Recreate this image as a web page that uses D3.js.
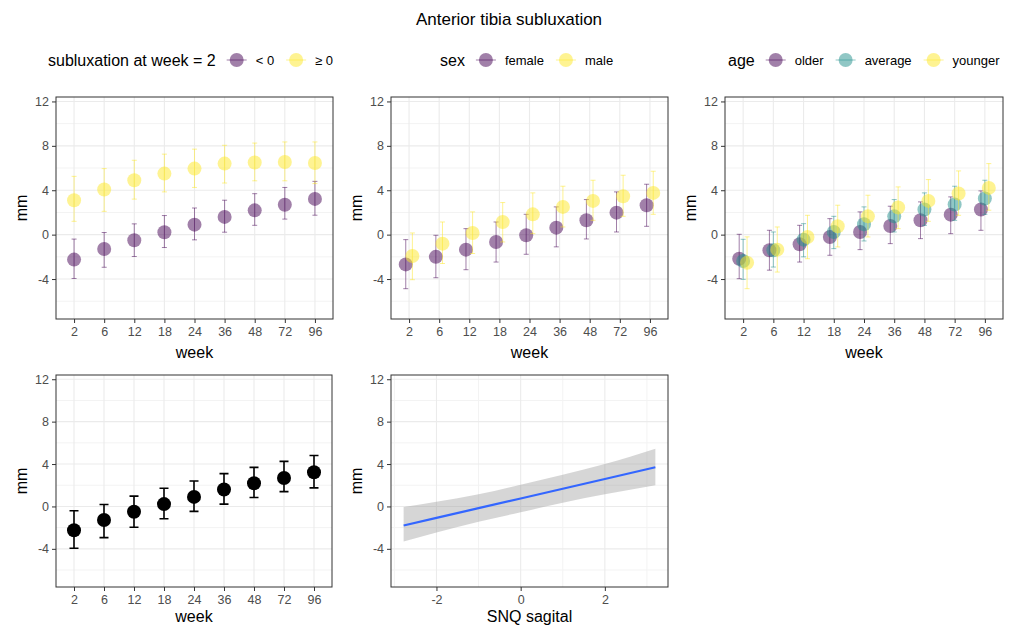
<!DOCTYPE html>
<html>
<head>
<meta charset="utf-8">
<script src="https://cdn.jsdelivr.net/npm/d3@7"></script>
<style>
body { margin: 0; background: #fff; }
svg { font-family: "Liberation Sans", Arial, sans-serif; }
</style>
</head>
<body>
<svg id="chart" width="1014" height="628"></svg>
<script>
// ---- data ----
const weeks = ["2", "6", "12", "18", "24", "36", "48", "72", "96"];
const yTicks = [-4, 0, 4, 8, 12];
const yMinor = [-6, -2, 2, 6, 10];

// panel 1: subluxation at week 2
const negMean = [-2.25, -1.3, -0.5, 0.22, 0.9, 1.6, 2.19, 2.69, 3.22];
const negLo   = [-3.95, -2.94, -1.97, -1.16, -0.47, 0.22, 0.84, 1.4, 1.75];
const negHi   = [-0.4, 0.19, 0.97, 1.72, 2.4, 3.1, 3.69, 4.25, 4.8];
const posMean = [3.1, 4.06, 4.9, 5.5, 5.95, 6.4, 6.5, 6.55, 6.45];
const posLo   = [1.2, 2.1, 3.2, 3.85, 4.25, 4.65, 4.85, 4.85, 4.6];
const posHi   = [5.25, 5.95, 6.7, 7.25, 7.7, 8.05, 8.25, 8.35, 8.35];

// panel 2: sex
const femMean = [-2.68, -2.0, -1.35, -0.66, -0.06, 0.63, 1.29, 1.98, 2.65];
const femLo   = [-4.87, -3.88, -3.16, -2.47, -1.77, -1.1, -0.39, 0.24, 0.75];
const femHi   = [-0.45, -0.06, 0.54, 1.14, 1.83, 2.5, 3.16, 3.85, 4.54];
const malMean = [-1.92, -0.81, 0.15, 1.14, 1.83, 2.5, 3.04, 3.46, 3.76];
const malLo   = [-4.06, -2.6, -1.7, -0.66, 0.09, 0.69, 1.29, 1.65, 1.83];
const malHi   = [0.15, 1.14, 2.05, 2.89, 3.76, 4.36, 4.9, 5.35, 5.71];

// panel 3: age
const oldMean = [-2.17, -1.41, -0.87, -0.21, 0.24, 0.78, 1.29, 1.8, 2.26];
const oldLo   = [-3.97, -3.2, -2.47, -1.86, -1.35, -0.81, -0.36, 0.09, 0.39];
const oldHi   = [0.03, 0.39, 0.84, 1.44, 2.05, 2.56, 2.95, 3.4, 3.94];
const avgMean = [-2.38, -1.41, -0.45, 0.24, 0.93, 1.65, 2.26, 2.71, 3.25];
const avgLo   = [-4.03, -2.92, -2.0, -1.26, -0.57, 0.24, 0.84, 1.29, 1.83];
const avgHi   = [-0.42, 0.24, 0.99, 1.65, 2.5, 3.16, 3.76, 4.36, 4.9];
const yngMean = [-2.53, -1.35, -0.21, 0.75, 1.65, 2.44, 3.04, 3.7, 4.21];
const yngLo   = [-4.87, -3.37, -2.17, -1.11, -0.21, 0.54, 1.2, 1.74, 2.2];
const yngHi   = [-0.2, 0.69, 1.74, 2.65, 3.55, 4.3, 4.96, 5.74, 6.4];

// panel 4: overall
const allMean = [-2.25, -1.28, -0.5, 0.22, 0.9, 1.6, 2.19, 2.69, 3.22];
const allLo   = [-3.95, -2.94, -1.97, -1.16, -0.47, 0.22, 0.84, 1.4, 1.75];
const allHi   = [-0.4, 0.19, 0.97, 1.72, 2.4, 3.1, 3.69, 4.25, 4.8];

// panel 5: SNQ sagital linear fit
const snqX   = [-2.78, -2, -1, 0, 1, 2, 3.2];
const snqFit = [-1.8, -1.08, -0.16, 0.75, 1.67, 2.59, 3.7];
const snqLo  = [-3.3, -2.45, -1.45, -0.55, 0.35, 1.15, 2.0];
const snqHi  = [-0.05, 0.45, 1.15, 2.05, 3.0, 4.0, 5.45];
const snqTicks = [-2, 0, 2];
const snqMinor = [-3, -1, 1, 3];

const purple = "#440154", teal = "#21908C", yellow = "#FDE725";

const svg = d3.select("#chart");
svg.append("rect").attr("width", 1014).attr("height", 628).attr("fill", "#fff");

svg.append("text")
  .attr("x", 509).attr("y", 25)
  .attr("text-anchor", "middle")
  .attr("font-size", "17px").attr("fill", "#000")
  .text("Anterior tibia subluxation");

// draws the frame, grid and axes of one panel, returns the plot group
let makePanel = (box, x, y, xTicks, xMinor, xTitle) => {
  const g = svg.append("g");
  const grid = g.append("g");
  grid.selectAll(".ymin").data(yMinor).enter().append("line")
    .attr("x1", box.left).attr("x2", box.right)
    .attr("y1", d => y(d)).attr("y2", d => y(d))
    .attr("stroke", "#F3F3F3").attr("stroke-width", 1);
  if (xMinor) {
    grid.selectAll(".xmin").data(xMinor.filter(d => x(d) > box.left && x(d) < box.right)).enter().append("line")
      .attr("y1", box.top).attr("y2", box.bottom)
      .attr("x1", d => x(d)).attr("x2", d => x(d))
      .attr("stroke", "#F3F3F3").attr("stroke-width", 1);
  }
  grid.selectAll(".ymaj").data(yTicks).enter().append("line")
    .attr("x1", box.left).attr("x2", box.right)
    .attr("y1", d => y(d)).attr("y2", d => y(d))
    .attr("stroke", "#EBEBEB").attr("stroke-width", 1.1);
  grid.selectAll(".xmaj").data(xTicks).enter().append("line")
    .attr("y1", box.top).attr("y2", box.bottom)
    .attr("x1", d => x(d)).attr("x2", d => x(d))
    .attr("stroke", "#EBEBEB").attr("stroke-width", 1.1);

  const yAxis = g.append("g").attr("transform", `translate(${box.left},0)`)
    .call(d3.axisLeft(y).tickValues(yTicks).tickFormat(d => String(d)).tickSize(4).tickPadding(3));
  const xAxis = g.append("g").attr("transform", `translate(0,${box.bottom})`)
    .call(d3.axisBottom(x).tickValues(xTicks).tickFormat(d => String(d)).tickSize(4).tickPadding(4));
  [xAxis, yAxis].forEach(a => {
    a.select(".domain").remove();
    a.selectAll(".tick line").attr("stroke", "#333333");
    a.selectAll("text").attr("fill", "#4D4D4D").attr("font-size", "12.5px")
      .attr("font-family", '"Liberation Sans", Arial, sans-serif');
  });

  g.append("text")
    .attr("x", (box.left + box.right) / 2).attr("y", box.bottom + box.titleGap)
    .attr("text-anchor", "middle").attr("font-size", "16px")
    .text(xTitle);
  g.append("text")
    .attr("transform", `translate(${box.left - 29},${(box.top + box.bottom) / 2}) rotate(-90)`)
    .attr("text-anchor", "middle").attr("font-size", "16px")
    .text("mm");

  const plot = g.append("g");
  g.append("rect")
    .attr("x", box.left).attr("y", box.top)
    .attr("width", box.right - box.left).attr("height", box.bottom - box.top)
    .attr("fill", "none").attr("stroke", "#333333").attr("stroke-width", 1);
  return plot;
};

let pointPanel = (box, series, offsets, solid) => {
  const x = d3.scalePoint().domain(weeks).range([box.left, box.right]).padding(0.6);
  const y = d3.scaleLinear().domain([-7.6, 12.4]).range([box.bottom, box.top]);
  const plot = makePanel(box, x, y, weeks, null, "week");
  const step = x.step();
  series.forEach((s, i) => {
    const rows = weeks.map((w, j) => ({ w: w, m: s.mean[j], lo: s.lo[j], hi: s.hi[j] }));
    const cx = d => x(d.w) + offsets[i] * step;
    const op = solid ? 1 : 0.5;
    const cap = solid ? 4.5 : 2.5;
    const sg = plot.append("g");
    sg.selectAll("circle").data(rows).enter().append("circle")
      .attr("cx", cx).attr("cy", d => y(d.m)).attr("r", 7)
      .attr("fill", s.color).attr("fill-opacity", op);
    sg.selectAll(".eb").data(rows).enter().append("path")
      .attr("d", d => `M${cx(d) - cap},${y(d.hi)}H${cx(d) + cap}M${cx(d)},${y(d.hi)}V${y(d.lo)}M${cx(d) - cap},${y(d.lo)}H${cx(d) + cap}`)
      .attr("fill", "none").attr("stroke", s.color).attr("stroke-opacity", op)
      .attr("stroke-width", solid ? 1.6 : 1);
  });
};

let legend = (x0, title, items) => {
  const g = svg.append("g");
  const t = g.append("text").attr("x", x0).attr("y", 66).attr("font-size", "16px").text(title);
  let cx = x0 + t.node().getComputedTextLength() + 21;
  items.forEach(it => {
    g.append("line").attr("x1", cx - 10).attr("x2", cx + 10).attr("y1", 60).attr("y2", 60)
      .attr("stroke", it.color).attr("stroke-opacity", 0.5);
    g.append("circle").attr("cx", cx).attr("cy", 60).attr("r", 7)
      .attr("fill", it.color).attr("fill-opacity", 0.5);
    const lt = g.append("text").attr("x", cx + 19).attr("y", 65).attr("font-size", "13px").text(it.label);
    cx += 19 + lt.node().getComputedTextLength() + 22;
  });
};

// ---- top row ----
pointPanel({ left: 56, right: 333, top: 97, bottom: 319, titleGap: 39 }, [
  { color: purple, mean: negMean, lo: negLo, hi: negHi },
  { color: yellow, mean: posMean, lo: posLo, hi: posHi }
], [0, 0]);
legend(48, "subluxation at week = 2", [{ color: purple, label: "< 0" }, { color: yellow, label: "≥ 0" }]);

pointPanel({ left: 391, right: 668, top: 97, bottom: 319, titleGap: 39 }, [
  { color: purple, mean: femMean, lo: femLo, hi: femHi },
  { color: yellow, mean: malMean, lo: malLo, hi: malHi }
], [-0.11, 0.11]);
legend(440, "sex", [{ color: purple, label: "female" }, { color: yellow, label: "male" }]);

pointPanel({ left: 725, right: 1003, top: 97, bottom: 319, titleGap: 39 }, [
  { color: purple, mean: oldMean, lo: oldLo, hi: oldHi },
  { color: teal, mean: avgMean, lo: avgLo, hi: avgHi },
  { color: yellow, mean: yngMean, lo: yngLo, hi: yngHi }
], [-0.13, 0, 0.13]);
legend(728, "age", [{ color: purple, label: "older" }, { color: teal, label: "average" }, { color: yellow, label: "younger" }]);

// ---- bottom row ----
pointPanel({ left: 56, right: 332, top: 375, bottom: 587, titleGap: 35 }, [
  { color: "#000", mean: allMean, lo: allLo, hi: allHi }
], [0], true);

(() => {
  const box = { left: 391, right: 668, top: 375, bottom: 587, titleGap: 35 };
  const x = d3.scaleLinear().domain([-3.08, 3.5]).range([box.left, box.right]);
  const y = d3.scaleLinear().domain([-7.6, 12.4]).range([box.bottom, box.top]);
  const plot = makePanel(box, x, y, snqTicks, snqMinor, "SNQ sagital");
  const rows = snqX.map((v, i) => ({ x: v, fit: snqFit[i], lo: snqLo[i], hi: snqHi[i] }));
  plot.append("path").datum(rows)
    .attr("d", d3.area().x(d => x(d.x)).y0(d => y(d.lo)).y1(d => y(d.hi)).curve(d3.curveMonotoneX))
    .attr("fill", "#999999").attr("fill-opacity", 0.4);
  plot.append("path").datum(rows)
    .attr("d", d3.line().x(d => x(d.x)).y(d => y(d.fit)))
    .attr("fill", "none").attr("stroke", "#3366FF").attr("stroke-width", 2.2);
})();
</script>
</body>
</html>
